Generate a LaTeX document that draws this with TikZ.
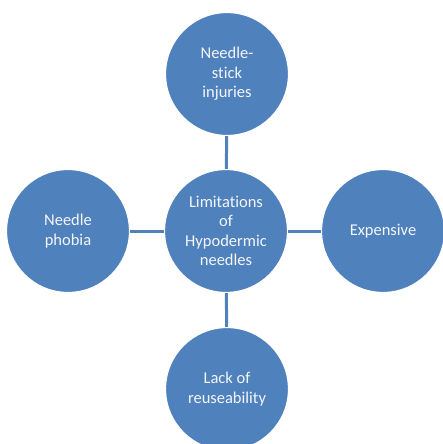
\documentclass[tikz,border=0pt]{standalone}
\usepackage{fontspec}
\setmainfont[Ligatures=CommonOff]{Carlito}
\definecolor{ofblue}{HTML}{4F81BD}
\definecolor{txt}{HTML}{F4F6FA}
\begin{document}
\begin{tikzpicture}[x=1pt,y=-1pt,
  bubble/.style={circle,fill=ofblue,draw=white,line width=1.2pt,minimum size=123pt,inner sep=0pt,
    align=center,text=txt,font=\fontsize{16.5}{19.5}\selectfont},
  link/.style={draw=ofblue,line width=3pt}]
\useasboundingbox (0,0) rectangle (442,444);
\node[bubble] (c) at (226,231) {Limitations\\of\\Hypodermic\\needles};
\node[bubble] (t) at (227,74) {Needle-\\stick\\injuries};
\node[bubble] (l) at (68,231) {Needle\\phobia};
\node[bubble] (r) at (383,231) {Expensive};
\node[bubble] (b) at (227,389) {Lack of\\reuseability};
\draw[link] (c) -- (t);
\draw[link] (c) -- (l);
\draw[link] (c) -- (r);
\draw[link] (c) -- (b);
\end{tikzpicture}
\end{document}
